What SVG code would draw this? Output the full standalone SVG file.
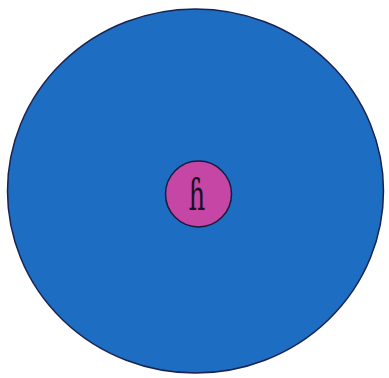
<svg xmlns="http://www.w3.org/2000/svg" width="389" height="378" viewBox="0 0 389 378">
<style>
.outer{fill:#1d6ec3;stroke:#1a2350;stroke-width:1.5}
.inner{fill:#c646a6;stroke:#1a1a3a;stroke-width:1.5}
.lbl{font-family:"DejaVu Serif",serif;font-size:42px;fill:#1a1020}
</style>
<rect width="389" height="378" fill="#ffffff"/>
<g id="outer-circle">
<ellipse class="outer" cx="195.5" cy="191" rx="188" ry="182"/>
</g>
<g id="nucleus">
<circle class="inner" cx="198.5" cy="194" r="33"/>
<text class="lbl" x="0" y="0" text-anchor="middle" transform="translate(197,210) scale(0.62,1)">ɦ</text>
</g>
</svg>
